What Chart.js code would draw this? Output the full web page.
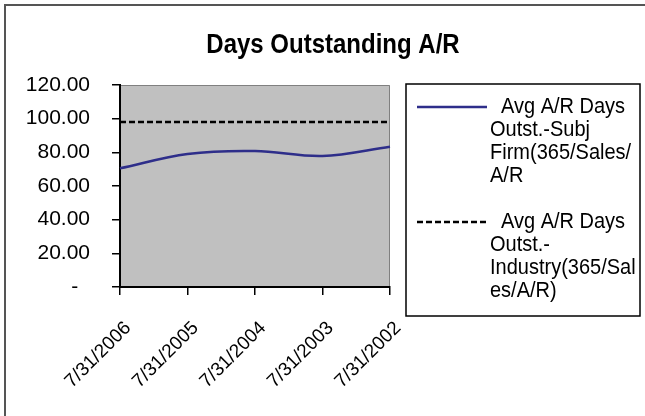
<!DOCTYPE html>
<html>
<head>
<meta charset="utf-8">
<script src="https://cdn.jsdelivr.net/npm/chart.js@4.4.1/dist/chart.umd.min.js"></script>
<style>
  html, body { margin: 0; padding: 0; background: #ffffff; }
  #wrap { width: 645px; height: 416px; position: relative; }
</style>
</head>
<body>
<div id="wrap"><canvas id="c" width="645" height="416"></canvas></div>
<script>
// Period-end dates shown on the category axis
const periods = ['7/31/2006', '7/31/2005', '7/31/2004', '7/31/2003', '7/31/2002'];

// Average receivable days outstanding
const firmDays = [70.5, 79.0, 80.8, 77.8, 83.3];
const industryDays = [98.0, 98.0, 98.0, 98.0, 98.0];

// Series names, wrapped as they appear in the legend
const firmLabelLines = ['Avg A/R Days', 'Outst.-Subj', 'Firm(365/Sales/', 'A/R'];
const industryLabelLines = ['Avg A/R Days', 'Outst.-', 'Industry(365/Sal', 'es/A/R)'];

// Value axis ticks
const yMin = 0, yMax = 120, yStep = 20;

const chartTitle = 'Days Outstanding A/R';
const FONT = '"Liberation Sans", Arial, sans-serif';

// Frame, grey plot background and the title
const backdropPlugin = {
  id: 'backdrop',
  beforeDraw(chart) {
    const { ctx, chartArea: a } = chart;
    ctx.save();
    ctx.fillStyle = '#ffffff';
    ctx.fillRect(0, 0, chart.width, chart.height);
    ctx.strokeStyle = '#555555';
    ctx.lineWidth = 2;
    ctx.strokeRect(5, 5, chart.width + 20, chart.height + 20);
    ctx.fillStyle = '#c0c0c0';
    ctx.fillRect(a.left, a.top, a.right - a.left, a.bottom - a.top);
    ctx.strokeStyle = '#808080';
    ctx.lineWidth = 1;
    ctx.beginPath();
    ctx.moveTo(a.left, a.top + 0.5);
    ctx.lineTo(a.right - 0.5, a.top + 0.5);
    ctx.lineTo(a.right - 0.5, a.bottom);
    ctx.stroke();
    // title, slightly tall glyphs
    ctx.fillStyle = '#000000';
    ctx.font = 'bold 24px ' + FONT;
    ctx.textAlign = 'center';
    ctx.textBaseline = 'middle';
    ctx.translate(333, 45);
    ctx.scale(1, 1.15);
    ctx.fillText(chartTitle, 0, 0);
    ctx.restore();
  }
};

// Boxed legend to the right of the plot with wrapped series names
const boxLegendPlugin = {
  id: 'boxLegend',
  afterDraw(chart) {
    const { ctx } = chart;
    const box = { x: 406, y: 84, w: 234, h: 232 };
    ctx.save();
    ctx.strokeStyle = '#000000';
    ctx.lineWidth = 1.5;
    ctx.strokeRect(box.x, box.y, box.w, box.h);
    const lineH = 23;
    const entryTops = [107, 222];
    chart.data.datasets.forEach((ds, i) => {
      const y0 = entryTops[i];
      ctx.save();
      ctx.strokeStyle = ds.borderColor;
      ctx.lineWidth = ds.borderWidth;
      ctx.setLineDash(ds.borderDash || []);
      ctx.beginPath();
      ctx.moveTo(417, y0);
      ctx.lineTo(487, y0);
      ctx.stroke();
      ctx.restore();
      ds.labelLines.forEach((t, k) => {
        ctx.save();
        ctx.font = '20px ' + FONT;
        ctx.fillStyle = '#000000';
        ctx.textAlign = 'left';
        ctx.textBaseline = 'middle';
        ctx.translate(k === 0 ? 501 : 490, y0 + k * lineH);
        ctx.scale(1, 1.1);
        ctx.fillText(t, 0, 0);
        ctx.restore();
      });
    });
    ctx.restore();
  }
};

new Chart(document.getElementById('c'), {
  type: 'line',
  data: {
    labels: periods,
    datasets: [
      {
        label: firmLabelLines.join(' '),
        labelLines: firmLabelLines,
        data: firmDays,
        borderColor: '#2e2e8a',
        borderWidth: 2.5,
        tension: 0.35,
        pointRadius: 0,
        fill: false
      },
      {
        label: industryLabelLines.join(' '),
        labelLines: industryLabelLines,
        data: industryDays,
        borderColor: '#000000',
        borderWidth: 2.5,
        borderDash: [6, 3],
        tension: 0,
        pointRadius: 0,
        fill: false
      }
    ]
  },
  options: {
    responsive: false,
    animation: false,
    devicePixelRatio: 1,
    layout: { padding: { top: 85, right: 255, left: 0, bottom: 0 } },
    plugins: {
      legend: { display: false },
      title: { display: false },
      tooltip: { enabled: false }
    },
    scales: {
      x: {
        offset: false,
        afterFit(scale) { scale.height = 129; },
        border: { display: true, color: '#000000', width: 2 },
        grid: { display: true, drawOnChartArea: false, drawTicks: true, tickLength: 8, color: '#000000', lineWidth: 1.5 },
        ticks: {
          autoSkip: false,
          maxRotation: 45,
          minRotation: 45,
          padding: 22,
          labelOffset: 8,
          color: '#000000',
          font: { family: FONT, size: 19 }
        }
      },
      y: {
        min: yMin,
        max: yMax,
        afterFit(scale) { scale.width = 120; },
        border: { display: true, color: '#000000', width: 2 },
        grid: { display: true, drawOnChartArea: false, drawTicks: true, tickLength: 8, color: '#000000', lineWidth: 1.5 },
        ticks: {
          stepSize: yStep,
          padding: 22,
          color: '#000000',
          font: { family: FONT, size: 21 },
          callback: (v) => (v === 0 ? '-  ' : v.toFixed(2))
        }
      }
    }
  },
  plugins: [backdropPlugin, boxLegendPlugin]
});
</script>
</body>
</html>
